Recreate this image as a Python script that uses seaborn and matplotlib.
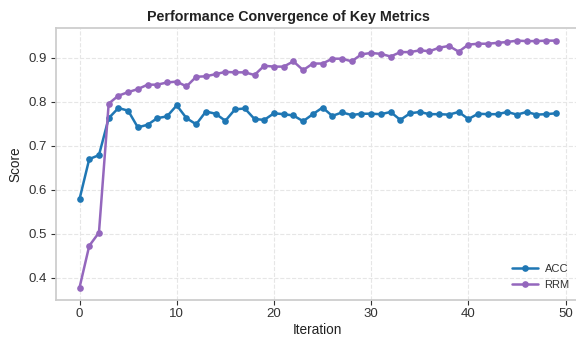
import matplotlib
matplotlib.use("Agg")
import matplotlib.pyplot as plt
import seaborn as sns
import pandas as pd
import numpy as np

iterations = list(range(50))
acc = [0.579, 0.670, 0.679, 0.763, 0.786, 0.780, 0.742, 0.748, 0.763, 0.767,
       0.792, 0.763, 0.749, 0.778, 0.773, 0.757, 0.783, 0.785, 0.761, 0.759,
       0.774, 0.772, 0.769, 0.756, 0.772, 0.787, 0.768, 0.776, 0.770, 0.773,
       0.773, 0.772, 0.777, 0.759, 0.774, 0.777, 0.772, 0.772, 0.771, 0.777,
       0.761, 0.773, 0.772, 0.772, 0.777, 0.771, 0.777, 0.771, 0.772, 0.774]
rrm = [0.378, 0.473, 0.503, 0.796, 0.814, 0.822, 0.829, 0.839, 0.839, 0.844,
       0.846, 0.835, 0.857, 0.858, 0.863, 0.868, 0.867, 0.867, 0.861, 0.882,
       0.880, 0.880, 0.892, 0.872, 0.887, 0.887, 0.898, 0.898, 0.892, 0.908,
       0.911, 0.909, 0.903, 0.913, 0.913, 0.917, 0.915, 0.923, 0.927, 0.914,
       0.930, 0.932, 0.932, 0.934, 0.936, 0.939, 0.938, 0.938, 0.939, 0.939]
series_names = ["ACC", "RRM"]
colors = ["#1f77b4", "#9467bd"]

df = pd.DataFrame({
    "Iteration": iterations * 2,
    "Score": acc + rrm,
    "Metric": [series_names[0]] * len(acc) + [series_names[1]] * len(rrm),
})

sns.set_theme(style="ticks")
plt.rcParams["font.family"] = ["Liberation Sans", "DejaVu Sans"]

fig = plt.figure(figsize=(5.76, 3.38), dpi=100)
top_px, bot_px = 28.3, 300.0
ax = fig.add_axes([55.7 / 576, (338 - bot_px) / 338, 524 / 576, (bot_px - top_px) / 338])

sns.lineplot(data=df, x="Iteration", y="Score", hue="Metric",
             palette=colors, marker="o", markersize=4.8, markeredgewidth=0,
             linewidth=1.8, ax=ax)

ax.set_xlim(-2.45, 51.45)
ax.set_xticks([0, 10, 20, 30, 40, 50])
ax.set_yticks([0.4, 0.5, 0.6, 0.7, 0.8, 0.9])
ax.grid(True, linestyle="--", color="#e6e6e6", linewidth=0.8)
for s in ax.spines.values():
    s.set_color("#cccccc")
ax.tick_params(colors="#333333", labelsize=9.5, length=3.5, width=0.8, pad=2.5)
ax.set_xlabel("Iteration", fontsize=9.8, color="#222222", labelpad=2)
ax.set_ylabel("Score", fontsize=9.8, color="#222222", labelpad=5)
fig.suptitle("Performance Convergence of Key Metrics", fontsize=10.3,
             fontweight="bold", color="#222222", x=0.5, y=1 - 16.5 / 338,
             va="center")
leg = ax.legend(loc="lower right", frameon=False, fontsize=8,
                handlelength=2.3, handletextpad=0.6, labelspacing=0.55,
                bbox_to_anchor=(1.0, 0.0))
for t in leg.get_texts():
    t.set_color("#333333")

fig.savefig("out.png", dpi=100)
